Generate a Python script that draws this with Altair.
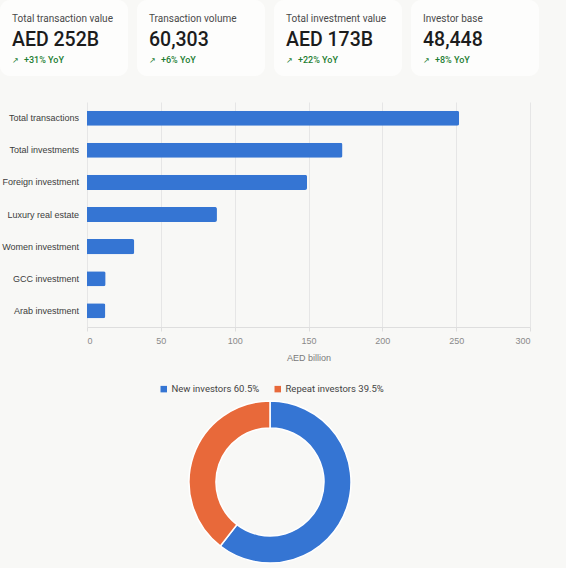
import altair as alt
import pandas as pd

# ---- headline figures -------------------------------------------------------
kpi_titles = ["Total transaction value", "Transaction volume",
              "Total investment value", "Investor base"]
kpi_values = ["AED 252B", "60,303", "AED 173B", "48,448"]
kpi_changes = ["+31% YoY", "+6% YoY", "+22% YoY", "+8% YoY"]

# ---- value by segment (AED billion) ------------------------------------------
segments = ["Total transactions", "Total investments", "Foreign investment",
            "Luxury real estate", "Women investment", "GCC investment",
            "Arab investment"]
segment_values = [252, 173, 149, 88, 32, 12.6, 12.4]
x_ticks = [0, 50, 100, 150, 200, 250, 300]

# ---- investor mix (%) --------------------------------------------------------
investor_types = ["New investors", "Repeat investors"]
investor_shares = [60.5, 39.5]

BG = "#f8f8f6"
CARD = "#fdfdfc"
BLUE = "#3575d3"
ORANGE = "#e8693a"
GREEN = "#1e7d32"
SANS = "Roboto"
ARIAL = "Liberation Sans"

kpi_df = pd.DataFrame({"title": kpi_titles, "value": kpi_values,
                       "change": kpi_changes})


def kpi_card(name):
    base = alt.Chart(kpi_df).transform_filter(alt.datum.title == name)
    txt = dict(align="left", baseline="alphabetic", font=SANS)
    title = base.mark_text(fontSize=10, color="#4a4a4a", **txt).encode(
        x=alt.value(12), y=alt.value(22), text="title:N")
    value = base.mark_text(fontSize=19.5, fontWeight=500, color="#1c1c1c", **txt).encode(
        x=alt.value(12), y=alt.value(46), text="value:N")
    arrow = base.mark_text(fontSize=8, color=GREEN, **txt).encode(
        x=alt.value(12), y=alt.value(63), text=alt.value("↗"))
    change = base.mark_text(fontSize=9, fontWeight=500, color=GREEN, **txt).encode(
        x=alt.value(24), y=alt.value(63), text="change:N")
    return alt.layer(title, value, arrow, change).properties(
        width=128, height=76,
        view=alt.ViewBackground(fill=CARD, strokeOpacity=0, cornerRadius=10),
    )


cards = alt.hconcat(*[kpi_card(t) for t in kpi_titles], spacing=9)

# ---- horizontal bars -------------------------------------------------------------
bar_df = pd.DataFrame({"segment": segments, "value": segment_values})
band = alt.Scale(paddingInner=0.53, paddingOuter=0.27)

# category names, right-aligned against the bar area
bar_labels = alt.Chart(bar_df).mark_text(
    align="right", baseline="middle", font=ARIAL, fontSize=9, color="#3c3c3c"
).encode(
    x=alt.value(79),
    y=alt.Y("segment:N", sort=segments, scale=band, axis=None),
    text="segment:N",
).properties(width=87, height=225)

bars = alt.Chart(bar_df).mark_bar(color=BLUE, cornerRadiusEnd=2).encode(
    x=alt.X(
        "value:Q",
        scale=alt.Scale(domain=[0, 300]),
        axis=alt.Axis(
            values=x_ticks, title="AED billion", grid=True, gridColor="#e6e6e6",
            domainColor="#dedede", tickColor="#dedede", tickSize=4,
            labelFont=ARIAL, labelFontSize=9, labelColor="#8a8a8a", labelPadding=5,
            titleFont=ARIAL, titleFontSize=9, titleFontWeight="normal",
            titleColor="#7a7a7a", titlePadding=8,
        ),
    ),
    y=alt.Y("segment:N", sort=segments, scale=band, axis=None),
).properties(width=443, height=225)

bar_row = alt.hconcat(bar_labels, bars, spacing=0, bounds="flush")

# ---- investor donut --------------------------------------------------------------
donut_df = pd.DataFrame({
    "type": investor_types,
    "share": investor_shares,
    "label": [f"{t} {s}%" for t, s in zip(investor_types, investor_shares)],
    "rank": list(range(len(investor_types))),
})

donut = alt.Chart(donut_df).mark_arc(
    outerRadius=81, innerRadius=54, stroke="white", strokeWidth=1.5
).encode(
    theta=alt.Theta("share:Q", stack=True),
    order=alt.Order("rank:Q"),
    color=alt.Color(
        "label:N",
        scale=alt.Scale(domain=donut_df["label"].tolist(), range=[BLUE, ORANGE]),
        legend=alt.Legend(
            orient="none", legendX=159, legendY=-17, direction="horizontal",
            title=None, symbolType="square", symbolSize=42, symbolStrokeWidth=0,
            labelFont=SANS, labelFontSize=9.5, labelColor="#444444",
            labelOffset=3, columnPadding=13, padding=0,
        ),
    ),
).properties(width=540, height=162)

lower = alt.vconcat(bar_row, donut, spacing=22).resolve_scale(
    color="independent").resolve_legend(color="independent")

chart = (
    alt.vconcat(cards, lower, spacing=26)
    .resolve_scale(color="independent")
    .resolve_legend(color="independent")
    .properties(padding={"left": 0, "top": 0, "right": 26, "bottom": 4})
    .configure(background=BG)
    .configure_view(strokeWidth=0)
)

chart.save("out.html", embed_options={"renderer": "svg", "actions": False})
